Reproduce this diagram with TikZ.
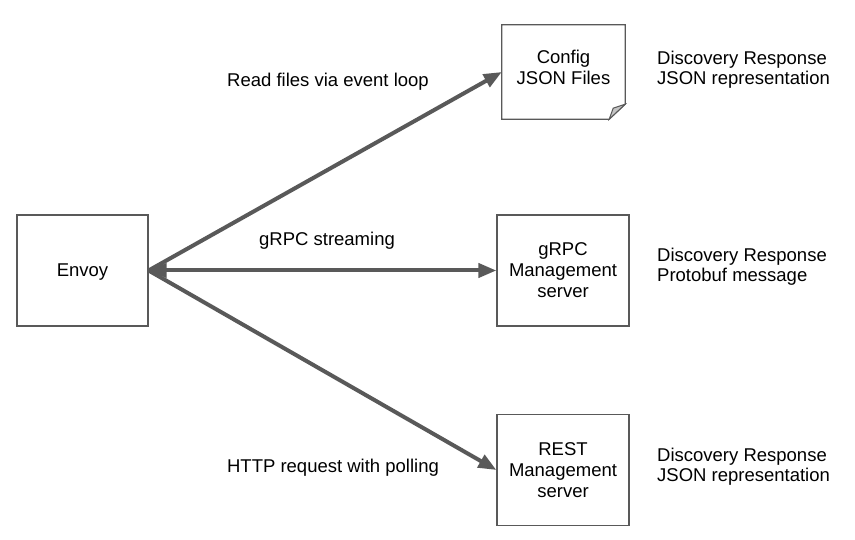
\documentclass[tikz,border=0pt]{standalone}
\usepackage{fontspec}
\setmainfont{Liberation Sans}
\usepackage{xcolor}
\usetikzlibrary{arrows.meta}
\definecolor{edgegray}{HTML}{595959}
\definecolor{foldgray}{HTML}{C4C4C4}

\begin{document}
\begin{tikzpicture}[x=1pt, y=-1pt,
        font=\fontsize{18.5}{21}\selectfont,
        server/.style={rectangle, draw=edgegray, line width=1.2pt, minimum width=132pt, minimum height=111pt, align=center},
        doc/.style={rectangle, minimum width=123pt, minimum height=94pt, align=center},
        flow/.style={draw=edgegray, line width=4pt, -{Triangle[length=18pt,width=14pt]}},
        twoway/.style={draw=edgegray, line width=4pt, {Triangle[length=18pt,width=14pt]}-{Triangle[length=18pt,width=14pt]}},
        caption/.style={anchor=base, inner sep=0pt},
        note/.style={anchor=west, align=left, inner sep=0pt, font=\fontsize{18.5}{20}\selectfont}
    ]
        \useasboundingbox (0,0) rectangle (855,540);

        \node[server, minimum width=131pt, text depth=0pt] (envoy) at (82.5,270.5) {Envoy};

        \node[doc] (config) at (563.5,72) {Config\\JSON Files\rule[-10pt]{0pt}{10pt}};
        \draw[edgegray, line width=1.2pt] (config.north west) -- (config.north east)
            -- ([yshift=15pt]config.south east) -- ([xshift=-16pt]config.south east)
            -- (config.south west) -- cycle;
        \draw[edgegray, line width=1pt, fill=foldgray] ([yshift=15pt]config.south east)
            -- ([xshift=-12pt,yshift=11pt]config.south east) -- ([xshift=-16pt]config.south east) -- cycle;

        \node[server] (grpc) at (563,270.5) {gRPC\\Management\\server};
        \node[server] (rest) at (563,470) {REST\\Management\\server};

        \node[caption] (read-lbl) at (328,87) {Read files via event loop};
        \node[caption] (grpc-lbl) at (327,246) {gRPC streaming};
        \node[caption] (http-lbl) at (333,472) {HTTP request with polling};

        \node[note] (config-note) at (657,69.3) {Discovery Response\\JSON representation};
        \node[note] (grpc-note) at (657,266.8) {Discovery Response\\Protobuf message};
        \node[note] (rest-note) at (657,466.3) {Discovery Response\\JSON representation};

        \draw[flow] (envoy.east) -- (config.west);
        \draw[twoway] (envoy.east) -- (grpc.west);
        \draw[flow] (envoy.east) -- (rest.west);
    \end{tikzpicture}
\end{document}
